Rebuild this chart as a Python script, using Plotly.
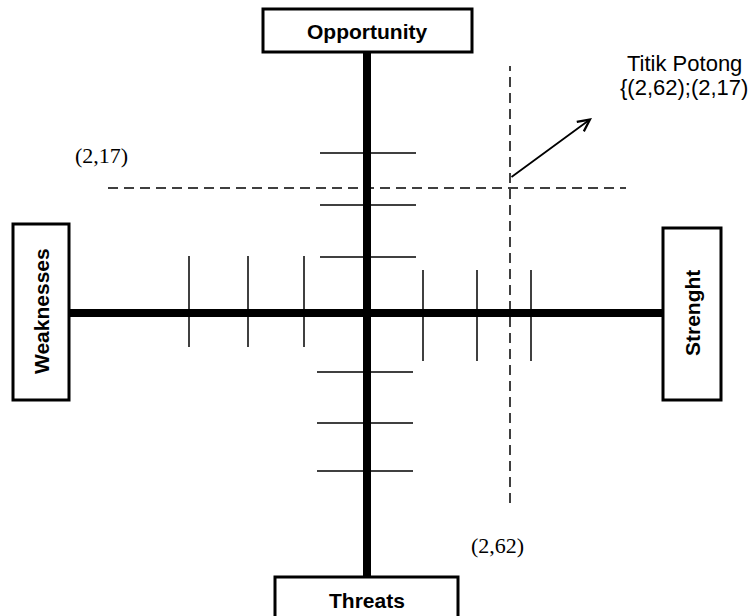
import plotly.graph_objects as go

# Coordinate system: origin at the crossing of the two main axes (1 unit = 1 px)
W, H = 756, 616
CX, CY = 367, 313  # pixel position of origin

# Main axis extents
h_axis_x = [-298, 296]
v_axis_y = [-264, 261]

# Tick marks on horizontal axis (vertical short lines)
left_tick_x = [-178, -119, -63]
left_tick_y = [-34, 57]
right_tick_x = [56, 110, 164]
right_tick_y = [-48, 43]

# Tick marks on vertical axis (horizontal short lines)
upper_tick_y = [56, 108, 160]
upper_tick_x = [-47, 49]
lower_tick_y = [-59, -110, -158]
lower_tick_x = [-50, 46]

# Intersection dashed lines
dash_h_y = 125
dash_h_x = [-259, 259]
dash_v_x = 143
dash_v_y = [-190, 247]

# Arrow (start, end)
arrow_x = [143, 225]
arrow_y = [135, 195]

# Boxes: (label, x0, x1, y0, y1, angle)
boxes = [
    ("Opportunity", -104, 105, 261, 304, 0),
    ("Threats", -92, 91, -320, -264, 0),
    ("Weaknesses", -354, -298, -87, 89, -90),
    ("Strenght", 296, 354, -87, 85, -90),
]
box_text_pos = {
    "Opportunity": (0, 282),
    "Threats": (0, -287),
    "Weaknesses": (-326, 2),
    "Strenght": (325, 0),
}

fig = go.Figure()

def add_line(xs, ys, width, dash="solid"):
    fig.add_trace(go.Scatter(x=xs, y=ys, mode="lines",
                             line=dict(color="black", width=width, dash=dash),
                             hoverinfo="skip", showlegend=False))

# main axes
add_line(h_axis_x, [0, 0], 8)
add_line([0, 0], v_axis_y, 8)

for x in left_tick_x:
    add_line([x, x], left_tick_y, 1.5)
for x in right_tick_x:
    add_line([x, x], right_tick_y, 1.5)
for y in upper_tick_y:
    add_line(upper_tick_x, [y, y], 1.5)
for y in lower_tick_y:
    add_line(lower_tick_x, [y, y], 1.5)

add_line(dash_h_x, [dash_h_y, dash_h_y], 1.5, "10px,6px")
add_line([dash_v_x, dash_v_x], dash_v_y, 1.5, "10px,6px")

shapes = []
annotations = []
for label, x0, x1, y0, y1, ang in boxes:
    shapes.append(dict(type="rect", x0=x0, x1=x1, y0=y0, y1=y1,
                       line=dict(color="black", width=3), fillcolor="white",
                       layer="above"))
    tx, ty = box_text_pos[label]
    annotations.append(dict(x=tx, y=ty, text="<b>%s</b>" % label, showarrow=False,
                            textangle=ang,
                            font=dict(family="Liberation Sans, Arial", size=21, color="black")))

# arrow
annotations.append(dict(
    x=arrow_x[1], y=arrow_y[1], ax=arrow_x[0], ay=arrow_y[0],
    xref="x", yref="y", axref="x", ayref="y", text="",
    showarrow=True, arrowhead=5, arrowsize=1.3, arrowwidth=1.8, arrowcolor="black",
    standoff=0, startstandoff=0))

annotations += [
    dict(x=-266, y=158, text="(2,17)", showarrow=False,
         font=dict(family="Liberation Serif, Times New Roman", size=22, color="black")),
    dict(x=130, y=-232, text="(2,62)", showarrow=False,
         font=dict(family="Liberation Serif, Times New Roman", size=22, color="black")),
    dict(x=317, y=250, text="Titik Potong", showarrow=False,
         font=dict(family="Liberation Sans, Arial", size=22, color="black")),
    dict(x=317, y=226, text="{(2,62);(2,17)", showarrow=False,
         font=dict(family="Liberation Sans, Arial", size=22, color="black")),
]

fig.update_layout(
    width=W, height=H,
    margin=dict(l=0, r=0, t=0, b=0),
    paper_bgcolor="white", plot_bgcolor="white",
    xaxis=dict(range=[-CX, W - CX], visible=False, fixedrange=True),
    yaxis=dict(range=[-(H - CY), CY], visible=False, fixedrange=True),
    shapes=shapes, annotations=annotations,
)

fig.write_html("out.html",
               config={"displayModeBar": False},
               post_script="document.body.style.margin='0';document.body.style.overflow='hidden';")
